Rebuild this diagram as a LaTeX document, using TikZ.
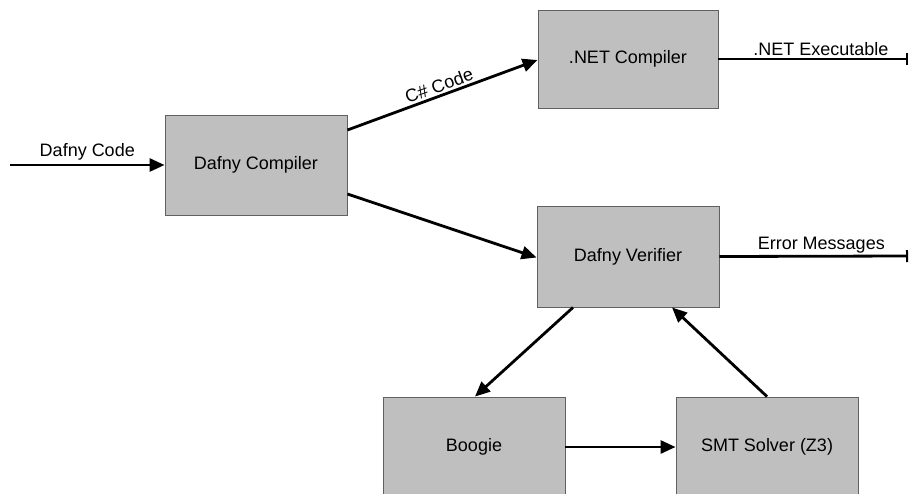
\documentclass[tikz,border=0pt]{standalone}
\usepackage{fontspec}
\setmainfont{Liberation Sans}
\usetikzlibrary{arrows.meta}
\begin{document}
\begin{tikzpicture}[x=1pt,y=-1pt,
  box/.style={draw=black!62,line width=0.9pt,fill=black!25,minimum width=182pt,minimum height=100pt,inner sep=0pt,font=\fontsize{18}{20}\selectfont},
  flow/.style={line width=2.8pt,-{Triangle[length=15pt,width=13pt]}},
  outflow/.style={line width=2.8pt,-{Bar[width=12pt,line width=2pt]}},
  lbl/.style={font=\fontsize{18}{20}\selectfont,inner sep=2pt}]
\useasboundingbox (0,0) rectangle (910,493);
\node[box] (comp) at (256,165) {Dafny Compiler};
\node[box,minimum width=180pt,minimum height=98pt] (net) at (628,59) {.NET Compiler};
\node[box,minimum height=101pt] (ver) at (628,256.5) {Dafny Verifier};
\node[box] (boogie) at (474,447) {Boogie};
\node[box] (smt) at (767,447) {SMT Solver (Z3)};
\coordinate (in) at (10,165);
\coordinate (netout) at (908,59);
\coordinate (errout) at (908,256);
\draw[flow] (in) -- node[lbl,above,pos=0.5,yshift=1pt] {Dafny Code} (comp.west);
\draw[flow] ([yshift=35pt]comp.east) -- node[lbl,above,sloped,pos=0.5] {C\# Code} ([yshift=-1pt]net.west);
\draw[flow] ([yshift=-29pt]comp.east) -- ([yshift=-1pt]ver.west);
\draw[outflow] (net.east) -- node[lbl,above,pos=0.54] {.NET Executable} (netout);
\draw[outflow] (ver.east) -- node[lbl,above,pos=0.54] {Error Messages} (errout);
\draw[flow] ([xshift=-55pt]ver.south) -- ([xshift=1pt]boogie.north);
\draw[flow] (smt.north) -- ([xshift=44pt]ver.south);
\draw[flow] (boogie.east) -- (smt.west);
\end{tikzpicture}
\end{document}
